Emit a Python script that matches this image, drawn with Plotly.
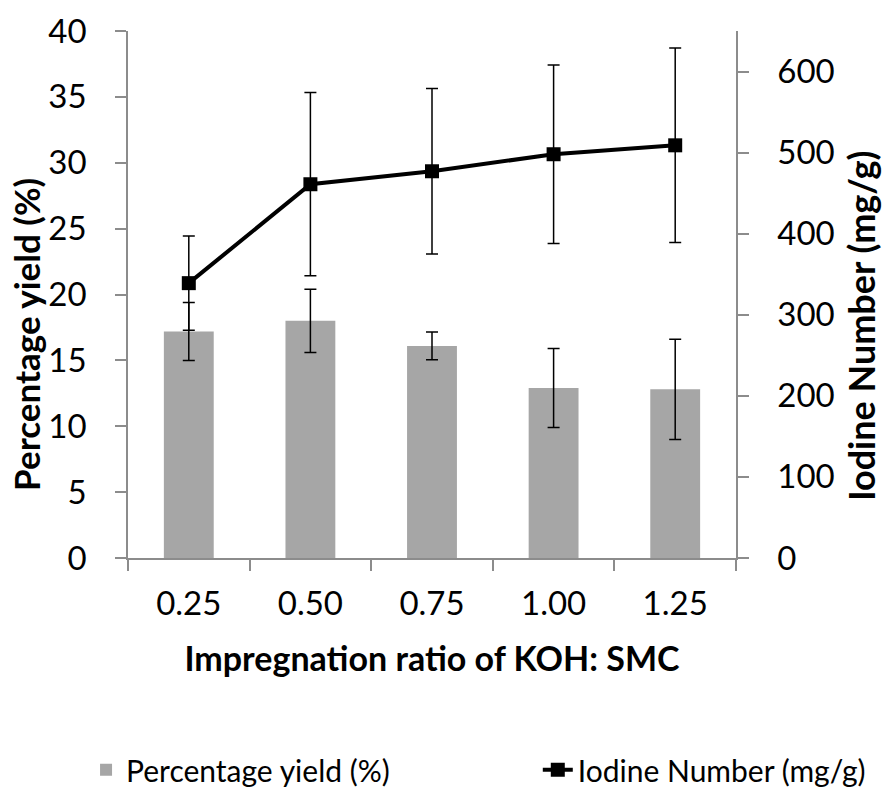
import plotly.graph_objects as go

categories = ["0.25", "0.50", "0.75", "1.00", "1.25"]
yield_pct = [17.2, 18.0, 16.1, 12.9, 12.8]
yield_err = [2.2, 2.4, 1.05, 3.0, 3.8]
iodine = [339, 461, 477, 498, 509]
iodine_err = [58, 113, 102, 110, 120]

FONT = "Lato"
AXIS_GREY = "#8C8C8C"

fig = go.Figure()
fig.add_trace(go.Bar(
    x=categories, y=yield_pct, name="Percentage yield (%)",
    marker=dict(color="#A6A6A6", line=dict(width=0)),
    width=0.41,
    error_y=dict(type="data", array=yield_err, visible=True, color="black",
                 thickness=1.5, width=6),
    yaxis="y", legend="legend",
))
fig.add_trace(go.Scatter(
    x=categories, y=iodine, name="Iodine Number (mg/g)",
    mode="lines+markers",
    line=dict(color="black", width=4),
    marker=dict(symbol="square", size=14, color="black"),
    error_y=dict(type="data", array=iodine_err, visible=True, color="black",
                 thickness=1.5, width=6),
    yaxis="y2", legend="legend2",
))

leg_common = dict(orientation="h", xanchor="left", yanchor="middle",
                  y=-0.402, font=dict(family=FONT, size=30, color="black"),
                  bgcolor="rgba(0,0,0,0)", borderwidth=0)

fig.update_layout(
    width=886, height=792,
    margin=dict(l=128, r=150, t=31, b=234, autoexpand=False),
    plot_bgcolor="white", paper_bgcolor="white",
    font=dict(family=FONT, color="black", size=32),
    showlegend=True,
    legend=dict(x=-0.069, **leg_common),
    legend2=dict(x=0.674, **leg_common),
    xaxis=dict(
        type="category", showline=True, linecolor=AXIS_GREY, linewidth=1.5,
        ticks="outside", ticklen=11, tickcolor=AXIS_GREY, tickwidth=1.5,
        tickson="boundaries", showgrid=False, zeroline=False,
        tickfont=dict(family=FONT, size=33, color="black"),
        ticklabelstandoff=16,
        title=dict(text="<b>Impregnation ratio of KOH: SMC</b>",
                   font=dict(family=FONT, size=34, color="black"), standoff=26),
    ),
    yaxis=dict(
        range=[0, 40], dtick=5, showline=True, linecolor=AXIS_GREY, linewidth=1.5,
        ticks="outside", ticklen=11, tickcolor=AXIS_GREY, tickwidth=1.5,
        showgrid=False, zeroline=False,
        tickfont=dict(family=FONT, size=33, color="black"),
        ticklabelstandoff=22,
    ),
    yaxis2=dict(
        range=[0, 650], dtick=100, overlaying="y", side="right",
        showline=True, linecolor=AXIS_GREY, linewidth=1.5,
        ticks="outside", ticklen=11, tickcolor=AXIS_GREY, tickwidth=1.5,
        showgrid=False, zeroline=False,
        tickfont=dict(family=FONT, size=33, color="black"),
        ticklabelstandoff=22,
    ),
    annotations=[
        dict(text="<b>Percentage yield (%)</b>", textangle=-90,
             xref="paper", yref="paper", x=-0.168, y=0.425,
             xanchor="center", yanchor="middle", showarrow=False,
             font=dict(family=FONT, size=35, color="black")),
        dict(text="<b>Iodine Number (mg/g)</b>", textangle=-90,
             xref="paper", yref="paper", x=1.2056, y=0.44,
             xanchor="center", yanchor="middle", showarrow=False,
             font=dict(family=FONT, size=36, color="black")),
    ],
)

fig.write_html("out.html")
